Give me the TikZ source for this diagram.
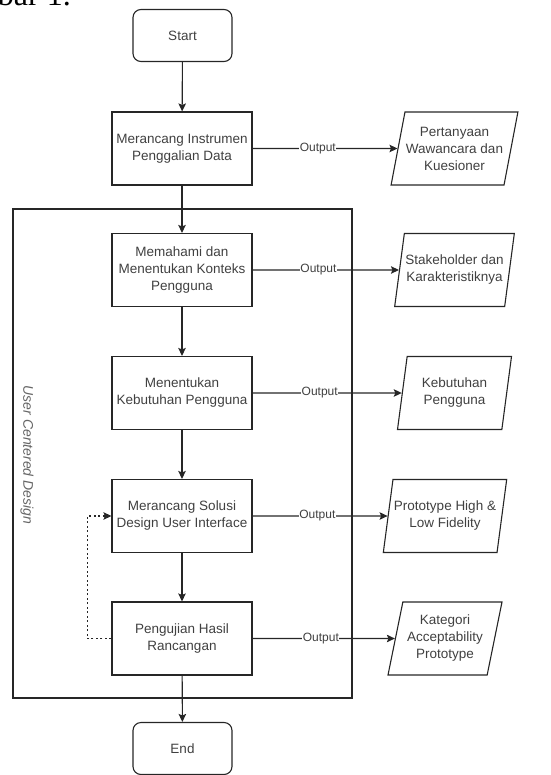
\documentclass[tikz,border=0pt]{standalone}
\usepackage{fontspec}
\setmainfont{Liberation Sans}
\newfontfamily\judulfont{Liberation Serif}
\usetikzlibrary{shapes.geometric, arrows.meta}
\definecolor{garis}{HTML}{262626}
\definecolor{teks}{HTML}{404040}

\begin{document}
\begin{tikzpicture}[>={Stealth[length=8pt, width=7.5pt, inset=1.5pt]}, x=1pt, y=-1pt,
    proses/.style={draw=garis, line width=1.1pt, minimum width=140pt, minimum height=73pt,
        align=center, text=teks, inner sep=1pt, font=\fontsize{13.5}{17}\selectfont},
    terminal/.style={proses, rounded corners=8pt, minimum width=99pt, minimum height=52pt},
    keluaran/.style={proses, trapezium, trapezium left angle=73, trapezium right angle=107,
        trapezium stretches body, minimum width=114pt},
    alur/.style={->, draw=garis, line width=1.1pt},
    label/.style={fill=white, text=teks, inner sep=0.5pt, font=\fontsize{12}{14}\selectfont}]
        \useasboundingbox (0,0) rectangle (550,775);

        % Potongan judul di atas
        \begin{scope}
            \clip (0,0) rectangle (550,775);
            \node[anchor=base east, inner sep=0pt, font=\judulfont\fontsize{32}{36}\selectfont] (judul) at (71,6) {Gambar 1.};
        \end{scope}

        % Kotak User Centered Design
        \node[draw=garis, line width=1.1pt, minimum width=339pt, minimum height=489pt] (ucd) at (182.5,453.5) {};
        \node[rotate=-90, text=teks!80, font=\itshape\fontsize{14}{17}\selectfont] (ucdlabel) at (27,455) {User Centered Design};

        % Alur utama
        \node[terminal] (start) at (182.5,35.5) {Start};
        \node[proses] (instrumen) at (182,148.5) {Merancang Instrumen\\Penggalian Data};
        \node[proses] (konteks) at (182,270) {Memahami dan\\Menentukan Konteks\\Pengguna};
        \node[proses] (kebutuhan) at (182,393) {Menentukan\\Kebutuhan Pengguna};
        \node[proses] (solusi) at (182,516) {Merancang Solusi\\Design User Interface};
        \node[proses] (uji) at (182,638.5) {Pengujian Hasil\\Rancangan};
        \node[terminal] (end) at (182.5,748.5) {End};

        % Keluaran tiap tahap
        \node[keluaran] (out1) at (454.5,148.5) {Pertanyaan\\Wawancara dan\\Kuesioner};
        \node[keluaran] (out2) at (454.5,270) {Stakeholder dan\\Karakteristiknya};
        \node[keluaran] (out3) at (454.5,393) {Kebutuhan\\Pengguna};
        \node[keluaran] (out4) at (445,516) {Prototype High \&\\Low Fidelity};
        \node[keluaran] (out5) at (445,638.5) {Kategori\\Acceptability\\Prototype};

        \draw[alur] (start) -- (instrumen);
        \draw[alur] (instrumen) -- (konteks);
        \draw[alur] (konteks) -- (kebutuhan);
        \draw[alur] (kebutuhan) -- (solusi);
        \draw[alur] (solusi) -- (uji);
        \draw[alur] (uji) -- (end);

        \draw[alur] (instrumen) -- node[label, pos=0.45] {Output} (out1);
        \draw[alur] (konteks) -- node[label, pos=0.45] {Output} (out2);
        \draw[alur] (kebutuhan) -- node[label, pos=0.45] {Output} (out3);
        \draw[alur] (solusi) -- node[label, pos=0.48] {Output} (out4);
        \draw[alur] (uji) -- node[label, pos=0.48] {Output} (out5);

        % Umpan balik pengujian
        \draw[alur, dash pattern=on 2pt off 2.5pt] (uji.west) -- ++(-24,0) |- (solusi.west);
    \end{tikzpicture}
\end{document}
